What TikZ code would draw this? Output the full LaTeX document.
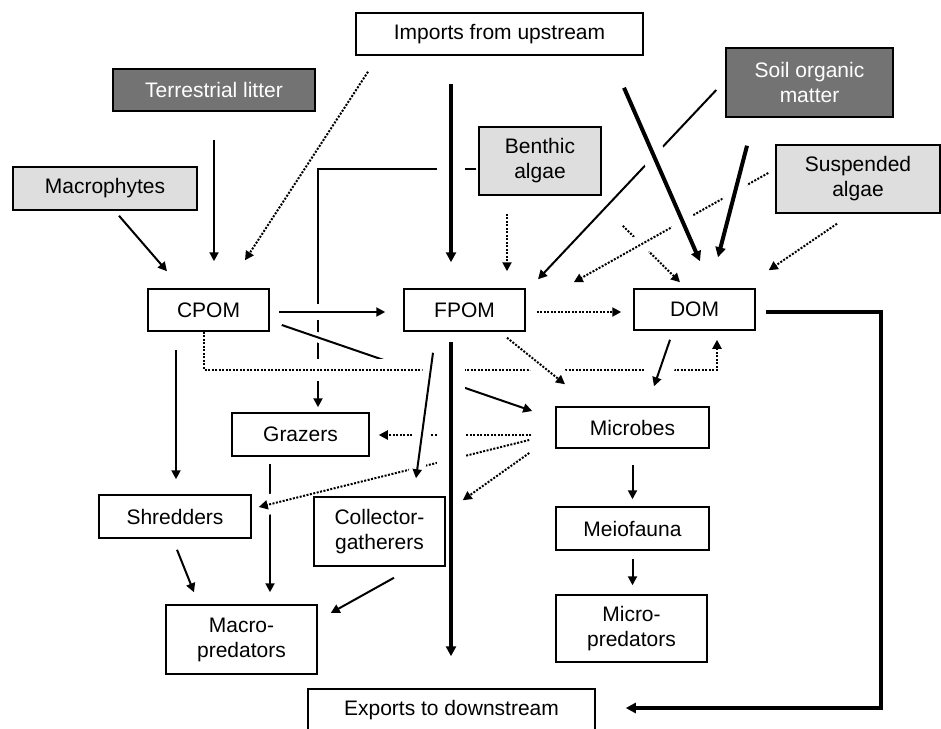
\documentclass[tikz,border=0pt]{standalone}
\usepackage{fontspec}
\setmainfont{Liberation Sans}
\usetikzlibrary{arrows.meta,backgrounds}

\begin{document}
\begin{tikzpicture}[x=0.5pt,y=-0.5pt,
	box/.style={draw,fill=white,line width=0.75pt,inner sep=0pt,align=center,font=\fontsize{10.5}{12.5}\selectfont},
	dark/.style={box,fill=black!55,text=white},
	light/.style={box,fill=black!13},
	arr/.style={line width=1pt,-{Triangle[length=4.5pt,width=4.5pt]}},
	heavy/.style={line width=2pt,-{Triangle[length=5pt,width=5pt]}},
	dots/.style={arr,dash pattern=on 1pt off 0.75pt},
	bridge/.style={preaction={draw=white,line width=#1,arrows=-,solid}}]
	\useasboundingbox (0,0) rectangle (941,728);

	\node[box,minimum width=143.5pt,minimum height=21pt] (imports) at (499.5,34) {Imports from upstream};
	\node[dark,minimum width=101pt,minimum height=21pt] (litter) at (214,90) {Terrestrial litter};
	\node[light,minimum width=92pt,minimum height=21.5pt] (macrophytes) at (105,188.5) {Macrophytes};
	\node[dark,minimum width=83.5pt,minimum height=34.5pt] (soil) at (809.5,82.5) {Soil organic\\matter};
	\node[light,minimum width=61pt,minimum height=34pt] (benthic) at (540,161) {Benthic\\algae};
	\node[light,minimum width=82pt,minimum height=34pt] (suspended) at (858,179) {Suspended\\algae};
	\node[box,minimum width=60.5pt,minimum height=21pt] (cpom) at (208.5,310) {CPOM};
	\node[box,minimum width=60.5pt,minimum height=21pt] (fpom) at (464.5,310) {FPOM};
	\node[box,minimum width=60.5pt,minimum height=20.5pt] (dom) at (694.5,309.5) {DOM};
	\node[box,minimum width=76.5pt,minimum height=20.5pt] (microbes) at (632.5,427.5) {Microbes};
	\node[box,minimum width=68.5pt,minimum height=21.5pt] (grazers) at (300.5,434.5) {Grazers};
	\node[box,minimum width=76pt,minimum height=21.5pt] (shredders) at (175,516.5) {Shredders};
	\node[box,minimum width=65.5pt,minimum height=34.5pt] (collectors) at (379.5,531.5) {Collector-\\gatherers};
	\node[box,minimum width=75.5pt,minimum height=34.5pt] (macropred) at (241.5,639.5) {Macro-\\predators};
	\node[box,minimum width=76.5pt,minimum height=21.5pt] (meiofauna) at (632.5,528.5) {Meiofauna};
	\node[box,minimum width=75.5pt,minimum height=33.5pt] (micropred) at (631.5,628.5) {Micro-\\predators};
	\node[box,minimum width=143.5pt,minimum height=21pt] (exports) at (451.5,710) {Exports to downstream};

	\begin{pgfonlayer}{background}
	\draw[arr] ([xshift=-1pt,yshift=-4pt]benthic.west) -| ([xshift=8.75pt,yshift=2.5pt]grazers.north);
	\draw[arr,bridge=8pt] ([xshift=4.5pt,yshift=-1pt]cpom.east) -- ([xshift=-9pt,yshift=-1pt]fpom.west);
	\draw[arr,bridge=5pt] ([xshift=6pt,yshift=-7.5pt]cpom.east) -- ([xshift=-11.5pt,yshift=8.25pt]microbes.west);
	\draw[dots,bridge=11pt] ([xshift=-2.25pt]cpom.south) -- ++(0,38) -| ([xshift=11.25pt,yshift=-4.5pt]dom.south);
	\draw[arr] ([xshift=-15.25pt,yshift=-3.5pt]grazers.south) -- ([xshift=14.25pt,yshift=6pt]macropred.north);
	\draw[dots,bridge=10pt] ([xshift=-13pt,yshift=-6.25pt]microbes.west) -- ([xshift=3.5pt,yshift=4.75pt]shredders.east);
	\draw[dots] ([xshift=-12pt,yshift=-3.75pt]microbes.west) -- ([xshift=4.5pt,yshift=-0.25pt]grazers.east);
	\draw[dots,bridge=11pt] ([xshift=21.25pt,yshift=-3pt]fpom.south) -- ([xshift=-33.75pt,yshift=11pt]microbes.north);
	\draw[arr,bridge=14pt] ([xshift=-12.25pt,yshift=-4.5pt]dom.south) -- ([xshift=10.75pt,yshift=10pt]microbes.north);
	\draw[arr,bridge=8pt] ([xshift=-15.75pt,yshift=-10.5pt]fpom.south) -- ([xshift=18.25pt,yshift=9pt]collectors.north);
	\draw[heavy,bridge=14pt] ([xshift=-6.75pt,yshift=-5pt]fpom.south) -- ([xshift=-0.25pt,yshift=16pt]exports.north);
	\draw[arr] ([xshift=-4.5pt,yshift=-3.75pt]soil.west) -- ([xshift=36.75pt,yshift=4.5pt]fpom.north);
	\draw[dots] ([xshift=10.5pt,yshift=-15pt]benthic.south east) -- ([xshift=-7.25pt,yshift=3pt]dom.north);
	\draw[dots,bridge=10pt] ([xshift=-3.5pt,yshift=3pt]suspended.west) -- ([xshift=24pt,yshift=3pt]fpom.north east);
	\draw[heavy,bridge=14pt] ([xshift=-24.25pt,yshift=-14pt]imports.south) -- ([xshift=-6.75pt,yshift=13pt]fpom.north);
	\draw[heavy,bridge=12pt] ([xshift=62.25pt,yshift=-16pt]imports.south) -- ([xshift=2.75pt,yshift=13.5pt]dom.north);
	\draw[heavy,bridge=10pt] ([xshift=-31.25pt,yshift=-14pt]soil.south) -- ([xshift=11.75pt,yshift=15.5pt]dom.north);
	\end{pgfonlayer}

	\draw[arr] ([xshift=7pt,yshift=-2.5pt]macrophytes.south) -- ([xshift=-20.75pt,yshift=8.5pt]cpom.north);
	\draw[arr] ([yshift=-14pt]litter.south) -- ([xshift=2.75pt,yshift=13.5pt]cpom.north);
	\draw[dots] ([xshift=-65.75pt,yshift=-8pt]imports.south) -- ([xshift=18.25pt,yshift=14pt]cpom.north);
	\draw[dots] ([xshift=-16.5pt,yshift=-9pt]benthic.south) -- ([xshift=21.25pt,yshift=8.5pt]fpom.north);
	\draw[dots] ([xshift=-10.5pt,yshift=-5pt]suspended.south) -- ([xshift=6.5pt,yshift=9pt]dom.north east);
	\draw[arr] ([xshift=-16.25pt,yshift=-9pt]cpom.south) -- ([xshift=0.5pt,yshift=7.5pt]shredders.north);
	\draw[dots] ([xshift=5.5pt,yshift=-1pt]fpom.east) -- ([xshift=-6pt,yshift=-1.25pt]dom.west);
	\draw[dots] ([xshift=-13pt,yshift=-12.75pt]microbes.west) -- ([xshift=8.5pt,yshift=-2pt]collectors.north east);
	\draw[arr] ([yshift=-8pt]microbes.south) -- ([yshift=3.5pt]meiofauna.north);
	\draw[arr] ([yshift=-4pt]meiofauna.south) -- ([xshift=0.5pt,yshift=4.5pt]micropred.north);
	\draw[arr] ([xshift=1pt,yshift=-5.5pt]shredders.south) -- ([xshift=-23.75pt,yshift=6pt]macropred.north);
	\draw[arr] ([xshift=7.25pt,yshift=-5.5pt]collectors.south) -- ([xshift=6.5pt,yshift=13.25pt]macropred.east);
	\draw[heavy] ([xshift=5pt,yshift=-1.25pt]dom.east) -- ++(115,0) |- ([xshift=15pt,yshift=1pt]exports.east);
\end{tikzpicture}
\end{document}
